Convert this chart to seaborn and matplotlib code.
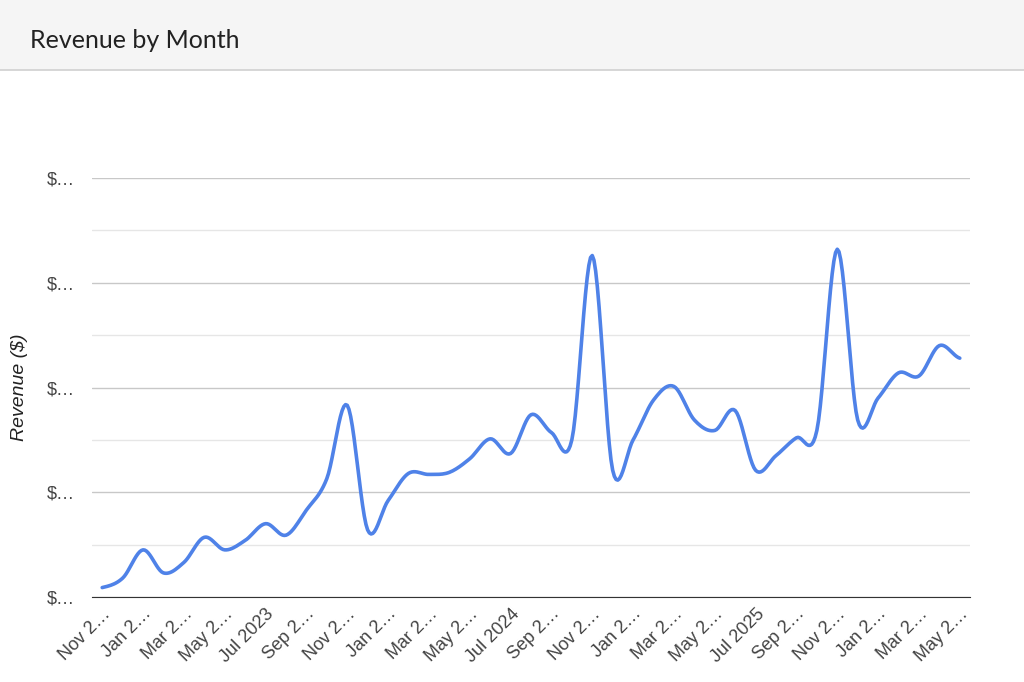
import numpy as np
import pandas as pd
import matplotlib
matplotlib.use("Agg")
import matplotlib.pyplot as plt
from matplotlib.patches import Rectangle
import seaborn as sns

months = pd.date_range("2022-11-01", "2026-05-01", freq="MS")
revenue = [9, 18, 45, 23, 33, 57, 45, 54, 70, 59, 83, 113, 183, 64, 92, 118, 117, 119,
           132, 151, 137, 174, 157, 150, 326, 121, 150, 188, 201, 169, 159, 178, 121,
           135, 152, 159, 332, 169, 190, 214, 211, 240, 228]
revenue = [v * 1000 for v in revenue]
tick_labels = [m.strftime("%b %Y") for m in months[::2]]
tick_labels = [t if t.startswith("Jul") else t[:5] + "\u2026" for t in tick_labels]


def catmull_rom(y, n=12):
    y = np.asarray(y, float)
    p = np.concatenate([[y[0]], y, [y[-1]]])
    xs, ys = [], []
    for i in range(len(y) - 1):
        t = np.linspace(0, 1, n, endpoint=False)
        p0, p1, p2, p3 = p[i], p[i + 1], p[i + 2], p[i + 3]
        seg = 0.5 * (2 * p1 + (-p0 + p2) * t + (2 * p0 - 5 * p1 + 4 * p2 - p3) * t ** 2
                     + (-p0 + 3 * p1 - 3 * p2 + p3) * t ** 3)
        xs.append(i + t)
        ys.append(seg)
    xs.append([len(y) - 1])
    ys.append([y[-1]])
    return np.concatenate(xs), np.concatenate(ys)


sx, sy = catmull_rom(revenue)
df = pd.DataFrame({"idx": sx, "revenue": sy})

sns.set_style("white")
plt.rcParams["font.family"] = ["Liberation Sans", "DejaVu Sans"]

fig = plt.figure(figsize=(10.24, 6.82), dpi=100)
fig.patches.append(Rectangle((0, 1 - 70 / 682), 1, 70 / 682, transform=fig.transFigure,
                             facecolor="#f5f5f5", edgecolor="none", zorder=0))
fig.lines.append(plt.Line2D([0, 1], [1 - 70 / 682] * 2, transform=fig.transFigure,
                            color="#d0d0d0", lw=1.2))
fig.text(30 / 1024, 1 - 40 / 682, "Revenue by Month", fontsize=18, color="#222222",
         va="center", family=["Lato", "DejaVu Sans"])

ax = fig.add_axes([92 / 1024, 1 - 597 / 682, 878 / 1024, 419 / 682])
sns.lineplot(data=df, x="idx", y="revenue", ax=ax, color="#4f82e8", lw=2.6)

ax.set_xlim(-0.5, len(revenue) - 0.5)
ax.set_ylim(0, 400000)
ax.set_yticks(np.arange(0, 400001, 100000))
ax.set_yticks(np.arange(50000, 400000, 100000), minor=True)
ax.set_yticklabels(["$\u2026"] * 5, fontsize=13, color="#444444")
ax.tick_params(axis="y", length=0, pad=12)
ax.grid(axis="y", which="major", color="#c8c8c8", lw=1)
ax.grid(axis="y", which="minor", color="#e6e6e6", lw=1)
ax.set_xticks(range(0, len(revenue), 2))
ax.set_xticklabels(tick_labels, rotation=45, ha="right", rotation_mode="anchor",
                   fontsize=13, color="#444444")
ax.tick_params(axis="x", length=0, pad=6)
for s in ["top", "right", "left"]:
    ax.spines[s].set_visible(False)
ax.spines["bottom"].set_color("#333333")
ax.set_xlabel("")
ax.set_ylabel("Revenue ($)", fontsize=14, style="italic", color="#222222", labelpad=14)

fig.savefig("out.png", dpi=100)
